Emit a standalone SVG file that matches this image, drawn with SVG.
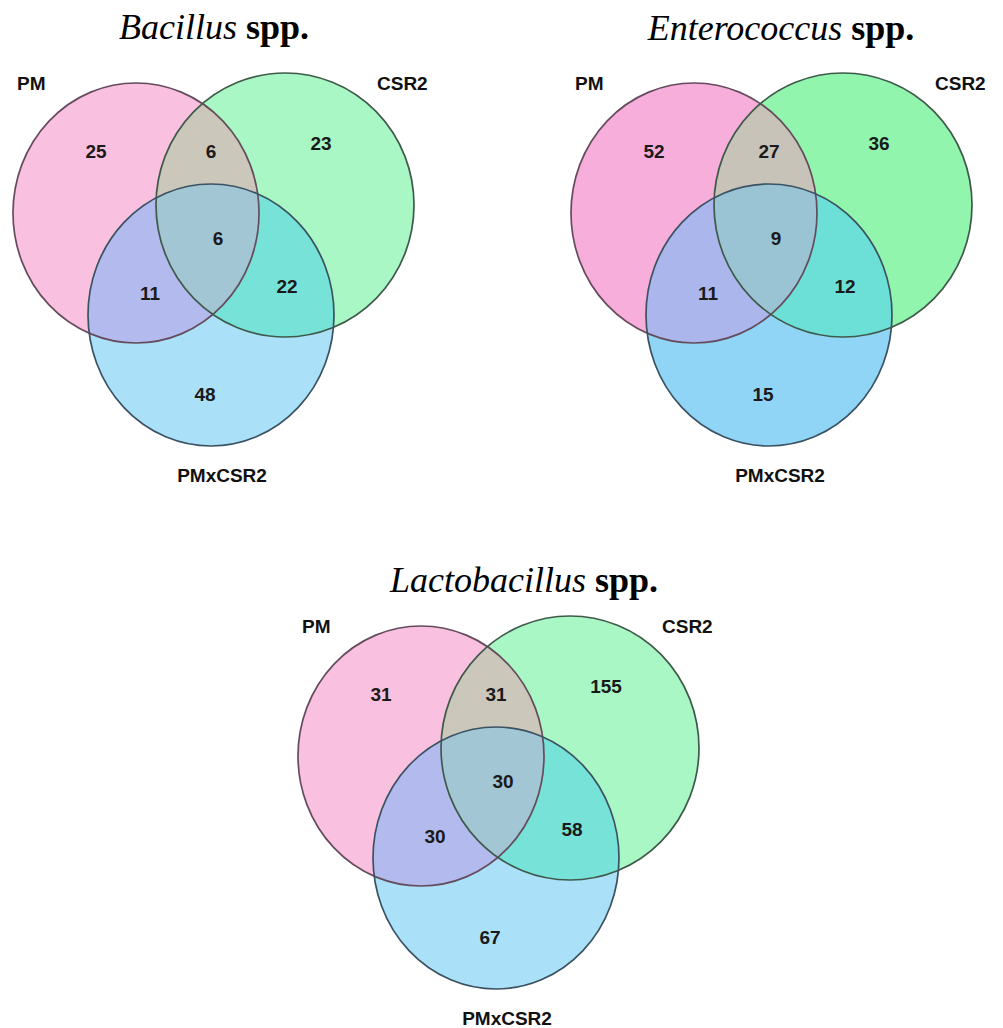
<svg xmlns="http://www.w3.org/2000/svg" xmlns:xlink="http://www.w3.org/1999/xlink" width="1003" height="1028" viewBox="0 0 1003 1028">
<style>
.title{font-family:"Liberation Serif","Times New Roman",serif;font-size:36px;fill:#000}
.it{font-style:italic}
.bd{font-weight:bold}
.lbl{font-family:"Liberation Sans",Arial,sans-serif;font-size:19px;font-weight:bold;fill:#111}
.num{font-family:"Liberation Sans",Arial,sans-serif;font-size:19px;font-weight:bold;fill:#1a1a1a;text-anchor:middle}
.oPM{fill:none;stroke:#654c5d;stroke-width:1.7}
.oCS{fill:none;stroke:#3f5a4a;stroke-width:1.7}
.oMX{fill:none;stroke:#3a5262;stroke-width:1.7}
.a .fPM{fill:#f9c1df}.a .fCS{fill:#a9f7c5}.a .fMX{fill:#aae1f8}
.a .fPC{fill:#cbc7bb}.a .fPX{fill:#b3bbee}.a .fCX{fill:#76e2d8}.a .fAll{fill:#a2c6d4}
.b .fPM{fill:#f7aedb}.b .fCS{fill:#92f5ae}.b .fMX{fill:#90d5f6}
.b .fPC{fill:#c8c3b8}.b .fPX{fill:#aab6ec}.b .fCX{fill:#6cdfd6}.b .fAll{fill:#9ac4d4}
</style>
<defs>
<ellipse id="ePM" cx="136" cy="213" rx="123" ry="130"/>
<ellipse id="eCS" cx="285" cy="205" rx="129" ry="132"/>
<ellipse id="eMX" cx="211" cy="315" rx="123" ry="131"/>
<clipPath id="cPM"><use xlink:href="#ePM"/></clipPath>
<clipPath id="cCS"><use xlink:href="#eCS"/></clipPath>
</defs>

<g id="bacillus" class="a">
<text class="title" x="214" y="39" text-anchor="middle"><tspan class="it">Bacillus</tspan> <tspan class="bd">spp.</tspan></text>
<g id="bacillus-fills">
<use xlink:href="#ePM" class="fPM"/>
<use xlink:href="#eCS" class="fCS"/>
<use xlink:href="#eMX" class="fMX"/>
<use xlink:href="#eCS" class="fPC" clip-path="url(#cPM)"/>
<use xlink:href="#eMX" class="fPX" clip-path="url(#cPM)"/>
<use xlink:href="#eMX" class="fCX" clip-path="url(#cCS)"/>
<g clip-path="url(#cPM)"><use xlink:href="#eMX" class="fAll" clip-path="url(#cCS)"/></g>
</g>
<g id="bacillus-PM"><use xlink:href="#ePM" class="oPM"/><text class="lbl" x="17" y="90">PM</text></g>
<g id="bacillus-CSR2"><use xlink:href="#eCS" class="oCS"/><text class="lbl" x="377" y="90">CSR2</text></g>
<g id="bacillus-PMxCSR2"><use xlink:href="#eMX" class="oMX"/><text class="lbl" x="222" y="482" text-anchor="middle">PMxCSR2</text></g>
<g id="bacillus-counts">
<text class="num" x="96" y="158">25</text>
<text class="num" x="211" y="158">6</text>
<text class="num" x="321" y="150">23</text>
<text class="num" x="218" y="245">6</text>
<text class="num" x="150" y="300">11</text>
<text class="num" x="287" y="293">22</text>
<text class="num" x="205" y="401">48</text>
</g>
</g>

<g id="enterococcus" class="b" transform="translate(558,0)">
<text class="title" x="223" y="40" text-anchor="middle"><tspan class="it">Enterococcus</tspan> <tspan class="bd">spp.</tspan></text>
<g id="enterococcus-fills">
<use xlink:href="#ePM" class="fPM"/>
<use xlink:href="#eCS" class="fCS"/>
<use xlink:href="#eMX" class="fMX"/>
<use xlink:href="#eCS" class="fPC" clip-path="url(#cPM)"/>
<use xlink:href="#eMX" class="fPX" clip-path="url(#cPM)"/>
<use xlink:href="#eMX" class="fCX" clip-path="url(#cCS)"/>
<g clip-path="url(#cPM)"><use xlink:href="#eMX" class="fAll" clip-path="url(#cCS)"/></g>
</g>
<g id="enterococcus-PM"><use xlink:href="#ePM" class="oPM"/><text class="lbl" x="17" y="90">PM</text></g>
<g id="enterococcus-CSR2"><use xlink:href="#eCS" class="oCS"/><text class="lbl" x="377" y="90">CSR2</text></g>
<g id="enterococcus-PMxCSR2"><use xlink:href="#eMX" class="oMX"/><text class="lbl" x="222" y="482" text-anchor="middle">PMxCSR2</text></g>
<g id="enterococcus-counts">
<text class="num" x="96" y="158">52</text>
<text class="num" x="211" y="158">27</text>
<text class="num" x="321" y="150">36</text>
<text class="num" x="218" y="245">9</text>
<text class="num" x="150" y="300">11</text>
<text class="num" x="287" y="293">12</text>
<text class="num" x="205" y="401">15</text>
</g>
</g>

<g id="lactobacillus" class="a" transform="translate(285,543)">
<text class="title" x="239" y="49" text-anchor="middle"><tspan class="it">Lactobacillus</tspan> <tspan class="bd">spp.</tspan></text>
<g id="lactobacillus-fills">
<use xlink:href="#ePM" class="fPM"/>
<use xlink:href="#eCS" class="fCS"/>
<use xlink:href="#eMX" class="fMX"/>
<use xlink:href="#eCS" class="fPC" clip-path="url(#cPM)"/>
<use xlink:href="#eMX" class="fPX" clip-path="url(#cPM)"/>
<use xlink:href="#eMX" class="fCX" clip-path="url(#cCS)"/>
<g clip-path="url(#cPM)"><use xlink:href="#eMX" class="fAll" clip-path="url(#cCS)"/></g>
</g>
<g id="lactobacillus-PM"><use xlink:href="#ePM" class="oPM"/><text class="lbl" x="17" y="90">PM</text></g>
<g id="lactobacillus-CSR2"><use xlink:href="#eCS" class="oCS"/><text class="lbl" x="377" y="90">CSR2</text></g>
<g id="lactobacillus-PMxCSR2"><use xlink:href="#eMX" class="oMX"/><text class="lbl" x="222" y="482" text-anchor="middle">PMxCSR2</text></g>
<g id="lactobacillus-counts">
<text class="num" x="96" y="158">31</text>
<text class="num" x="211" y="158">31</text>
<text class="num" x="321" y="150">155</text>
<text class="num" x="218" y="245">30</text>
<text class="num" x="150" y="300">30</text>
<text class="num" x="287" y="293">58</text>
<text class="num" x="205" y="401">67</text>
</g>
</g>
</svg>
